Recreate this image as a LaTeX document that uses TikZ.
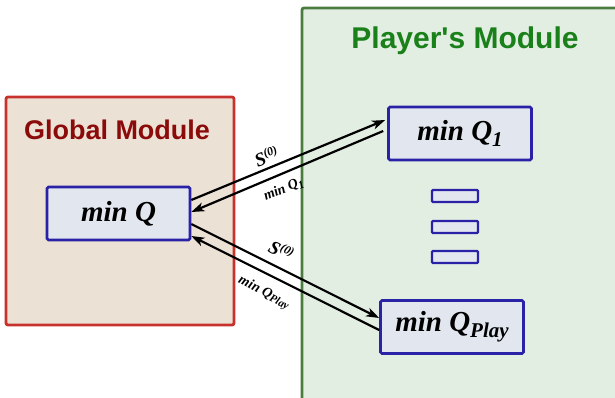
\documentclass[tikz,border=0pt]{standalone}
\usepackage{fontspec}
\setmainfont{Liberation Serif}
\newfontfamily\headfont{Liberation Sans}
\usepackage{xcolor}
\usetikzlibrary{calc, positioning, arrows.meta}

\definecolor{globalRed}{HTML}{C8322D}
\definecolor{globalFill}{HTML}{EBE1D4}
\definecolor{globalText}{HTML}{8B0A0A}
\definecolor{playerGreen}{HTML}{4A7C3F}
\definecolor{playerFill}{HTML}{E3EEE3}
\definecolor{playerText}{HTML}{1A801A}
\definecolor{boxBlue}{HTML}{2A22A6}
\definecolor{boxFill}{HTML}{E1E6EF}

\newcommand{\lowsub}[1]{\raisebox{-0.45ex}{\fontsize{21}{21}\selectfont #1}}
\newcommand{\upsup}[1]{\raisebox{0.75ex}{\fontsize{12}{12}\selectfont #1}}

\tikzset{
	module/.style={draw, rounded corners=2pt, line width=2.8pt, inner sep=0pt},
	title/.style={font=\headfont\bfseries\fontsize{27}{27}\selectfont},
	minbox/.style={draw=boxBlue, fill=boxFill, line width=2.6pt, rounded corners=1.5pt,
		minimum width=143pt, minimum height=53pt, inner sep=0pt,
		font=\bfseries\itshape\fontsize{29}{29}\selectfont},
	dotbox/.style={draw=boxBlue, fill=boxFill, line width=2.4pt, rounded corners=1pt,
		minimum width=46pt, minimum height=12pt, inner sep=0pt},
	msg/.style={line width=2.2pt, -{Stealth[length=13pt, width=9pt, inset=3.5pt]}},
	lbl/.style={font=\bfseries\itshape, inner sep=1pt}
}

\begin{document}
\begin{tikzpicture}[x=1pt, y=-1pt]
	\useasboundingbox (0,0) rectangle (615,397);
	\clip (0,0) rectangle (615,397);

	% the two modules
	\node[module, draw=globalRed, fill=globalFill, minimum width=228pt, minimum height=228pt] (global) at (120,211) {};
	\node[module, draw=playerGreen, fill=playerFill, minimum width=318pt, minimum height=394pt] (player) at (461,205) {};

	\node[title, text=globalText, below=21pt of global.north, xshift=-3pt] (globalTitle) {Global Module};
	\node[title, text=playerText, font=\headfont\bfseries\fontsize{30}{30}\selectfont, below=17pt of player.north, xshift=4pt] (playerTitle) {Player's Module};

	% optimisation boxes
	\node[minbox] (minQ) at (118.5,213.5) {min Q};
	\node[minbox] (minQone) at (460,133.5) {min Q\lowsub{1}};
	\node[minbox] (minQplay) at (452,327) {min Q\lowsub{Play}};

	\foreach \y/\name in {196/dotA, 227/dotB, 257/dotC}
	{
		\node[dotbox] (\name) at (455,\y) {};
	}

	% messages
	\draw[msg] ($(minQ.east)+(0,-13.5)$) -- ($(minQone.west)+(-2,-13.5)$)
		node[lbl, pos=.41, sloped, above=2pt, font=\bfseries\itshape\fontsize{19}{19}\selectfont] (sOne) {S\upsup{(0)}};
	\draw[msg] ($(minQone.west)+(-4,-2.5)$) -- ($(minQ.east)+(0,-1.5)$)
		node[lbl, pos=.55, sloped, below=7pt, font=\bfseries\itshape\fontsize{14}{14}\selectfont] (qOne) {min Q\raisebox{-0.4ex}{\fontsize{11}{11}\selectfont 1}};
	\draw[msg] ($(minQ.east)+(0,10.5)$) -- ($(minQplay.west)+(0,-9)$)
		node[lbl, pos=.44, sloped, above=7pt, font=\bfseries\itshape\fontsize{19}{19}\selectfont] (sPlay) {S\upsup{(0)}};
	\draw[msg] ($(minQplay.west)+(0,3)$) -- ($(minQ.east)+(0,22.5)$)
		node[lbl, pos=.57, sloped, below=9pt, font=\bfseries\itshape\fontsize{14}{14}\selectfont] (qPlay) {min Q\raisebox{-0.4ex}{\fontsize{11}{11}\selectfont Play}};
\end{tikzpicture}
\end{document}
